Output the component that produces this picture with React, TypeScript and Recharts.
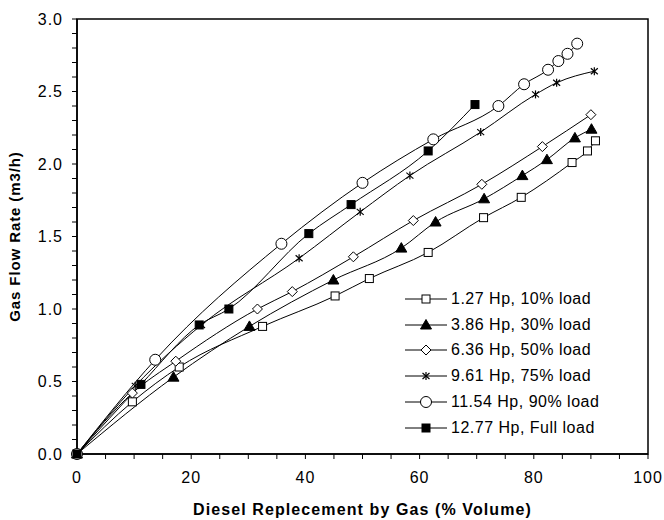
import React from "react";
import {
  LineChart,
  Line,
  XAxis,
  YAxis,
  ReferenceArea,
  Legend,
} from "recharts";

// x = diesel replacement (% volume), y = gas flow rate (m3/h)
const load10X = [0, 9.7, 17.9, 32.5, 45.2, 51.2, 61.5, 71.2, 77.8, 86.7, 89.4, 90.8];
const load10Y = [0, 0.36, 0.6, 0.88, 1.09, 1.21, 1.39, 1.63, 1.77, 2.01, 2.09, 2.16];

const load30X = [0, 16.9, 30.2, 44.9, 56.8, 62.8, 71.3, 78, 82.3, 87.2, 90.1];
const load30Y = [0, 0.53, 0.88, 1.2, 1.42, 1.6, 1.76, 1.92, 2.03, 2.18, 2.24];

const load50X = [0, 9.7, 17.3, 31.6, 37.7, 48.4, 58.9, 70.9, 81.5, 90];
const load50Y = [0, 0.42, 0.64, 1.0, 1.12, 1.36, 1.61, 1.86, 2.12, 2.34];

const load75X = [0, 10.2, 21.8, 38.9, 49.6, 58.3, 70.7, 80.3, 84, 90.6];
const load75Y = [0, 0.47, 0.89, 1.35, 1.67, 1.92, 2.22, 2.48, 2.56, 2.64];

const load90X = [0, 13.7, 35.8, 50, 62.4, 73.8, 78.3, 82.5, 84.3, 85.9, 87.6];
const load90Y = [0, 0.65, 1.45, 1.87, 2.17, 2.4, 2.55, 2.65, 2.71, 2.76, 2.83];

const fullX = [0, 11.2, 21.4, 26.6, 40.6, 48, 61.5, 69.7];
const fullY = [0, 0.48, 0.89, 1.0, 1.52, 1.72, 2.09, 2.41];

const xTicks = [0, 5, 10, 15, 20, 25, 30, 35, 40, 45, 50, 55, 60, 65, 70, 75, 80, 85, 90, 95, 100];
const yTicks = [
  0, 0.1, 0.2, 0.3, 0.4, 0.5, 0.6, 0.7, 0.8, 0.9, 1.0, 1.1, 1.2, 1.3, 1.4, 1.5,
  1.6, 1.7, 1.8, 1.9, 2.0, 2.1, 2.2, 2.3, 2.4, 2.5, 2.6, 2.7, 2.8, 2.9, 3.0,
];

const seriesNames = [
  "1.27 Hp, 10% load",
  "3.86 Hp, 30% load",
  "6.36 Hp, 50% load",
  "9.61 Hp, 75% load",
  "11.54 Hp, 90% load",
  "12.77 Hp, Full load",
];

type Kind = "square" | "triangle" | "diamond" | "star" | "circle" | "filledSquare";

const toPoints = (xs: number[], ys: number[]) => xs.map((x, i) => ({ x, y: ys[i] }));

const series: { name: string; kind: Kind; data: { x: number; y: number }[] }[] = [
  { name: seriesNames[0], kind: "square", data: toPoints(load10X, load10Y) },
  { name: seriesNames[1], kind: "triangle", data: toPoints(load30X, load30Y) },
  { name: seriesNames[2], kind: "diamond", data: toPoints(load50X, load50Y) },
  { name: seriesNames[3], kind: "star", data: toPoints(load75X, load75Y) },
  { name: seriesNames[4], kind: "circle", data: toPoints(load90X, load90Y) },
  { name: seriesNames[5], kind: "filledSquare", data: toPoints(fullX, fullY) },
];

const FONT = "'Liberation Sans', Arial, sans-serif";

function marker(kind: Kind, cx: number, cy: number, key?: string | number) {
  const s = { stroke: "#000", strokeWidth: 1 };
  switch (kind) {
    case "square":
      return <rect key={key} x={cx - 4} y={cy - 4} width={8} height={8} fill="#fff" {...s} />;
    case "filledSquare":
      return <rect key={key} x={cx - 4} y={cy - 4} width={8} height={8} fill="#000" {...s} />;
    case "triangle":
      return (
        <polygon
          key={key}
          points={`${cx},${cy - 5.5} ${cx + 5.5},${cy + 4} ${cx - 5.5},${cy + 4}`}
          fill="#000"
          {...s}
        />
      );
    case "diamond":
      return (
        <polygon
          key={key}
          points={`${cx},${cy - 5} ${cx + 5},${cy} ${cx},${cy + 5} ${cx - 5},${cy}`}
          fill="#fff"
          {...s}
        />
      );
    case "circle":
      return <circle key={key} cx={cx} cy={cy} r={5.5} fill="#fff" {...s} />;
    case "star":
      return (
        <g key={key} {...s} strokeWidth={1.2}>
          <line x1={cx} y1={cy - 4} x2={cx} y2={cy + 4} />
          <line x1={cx - 3.5} y1={cy - 3} x2={cx + 3.5} y2={cy + 3} />
          <line x1={cx - 3.5} y1={cy + 3} x2={cx + 3.5} y2={cy - 3} />
        </g>
      );
  }
}

const XTick = (props: any) => {
  const { x, y, payload } = props;
  if (payload.value % 20 !== 0) return <g />;
  return (
    <text
      x={x}
      y={y}
      dy={22}
      textAnchor="middle"
      fontSize={16}
      letterSpacing={1}
      fontFamily={FONT}
      fill="#000"
    >
      {payload.value}
    </text>
  );
};

const YTick = (props: any) => {
  const { x, y, payload } = props;
  if (Math.round(payload.value * 10) % 5 !== 0) return <g />;
  return (
    <text
      x={x}
      y={y}
      dy={5.5}
      textAnchor="end"
      fontSize={16}
      letterSpacing={1}
      fontFamily={FONT}
      fill="#000"
    >
      {payload.value.toFixed(1)}
    </text>
  );
};

const renderLegend = () => (
  <div style={{ fontFamily: FONT, fontSize: 16, letterSpacing: 0.5, color: "#000" }}>
    {series.map((s) => (
      <div key={s.name} style={{ display: "flex", alignItems: "center", height: 25.8 }}>
        <svg width={44} height={14}>
          <line x1={0} y1={7} x2={42} y2={7} stroke="#000" strokeWidth={1} />
          {marker(s.kind, 21, 7)}
        </svg>
        <span style={{ marginLeft: 2 }}>{s.name}</span>
      </div>
    ))}
  </div>
);

export default function App() {
  return (
    <div style={{ position: "absolute", left: 0, top: 0 }}>
      <LineChart
        width={664}
        height={520}
        margin={{ top: 19, right: 16, bottom: 0, left: 0 }}
      >
        <XAxis
          type="number"
          dataKey="x"
          domain={[0, 100]}
          ticks={xTicks}
          interval={0}
          tick={<XTick />}
          tickSize={5}
          tickMargin={2}
          height={66}
          axisLine={{ stroke: "#000", strokeWidth: 1.5 }}
          tickLine={{ stroke: "#000" }}
          label={{
            value: "Diesel Replecement by Gas (% Volume)",
            position: "insideBottom",
            offset: 5,
            style: {
              fontFamily: FONT,
              fontSize: 16,
              fontWeight: "bold",
              letterSpacing: 1.1,
              fill: "#000",
            },
          }}
        />
        <YAxis
          type="number"
          dataKey="y"
          domain={[0, 3]}
          ticks={yTicks}
          interval={0}
          tick={<YTick />}
          tickSize={5}
          tickMargin={9}
          width={77}
          axisLine={{ stroke: "#000", strokeWidth: 1.5 }}
          tickLine={{ stroke: "#000" }}
          label={{
            value: "Gas Flow Rate  (m3/h)",
            angle: -90,
            position: "insideLeft",
            offset: 15,
            style: {
              fontFamily: FONT,
              fontSize: 15,
              fontWeight: "bold",
              letterSpacing: 0.9,
              fill: "#000",
              textAnchor: "middle",
              whiteSpace: "pre",
            },
          }}
        />
        <ReferenceArea
          x1={0}
          x2={100}
          y1={0}
          y2={3}
          fill="none"
          stroke="#000"
          strokeWidth={1.5}
          ifOverflow="visible"
        />
        {series.map((s) => (
          <Line
            key={s.name}
            name={s.name}
            data={s.data}
            dataKey="y"
            type="monotone"
            stroke="#000"
            strokeWidth={1}
            isAnimationActive={false}
            dot={(p: any) => marker(s.kind, p.cx, p.cy, p.index)}
            activeDot={false}
          />
        ))}
        <Legend
          layout="horizontal"
          verticalAlign="middle"
          align="center"
          wrapperStyle={{ left: 405, top: 286, width: 240 }}
          content={renderLegend}
        />
      </LineChart>
    </div>
  );
}
